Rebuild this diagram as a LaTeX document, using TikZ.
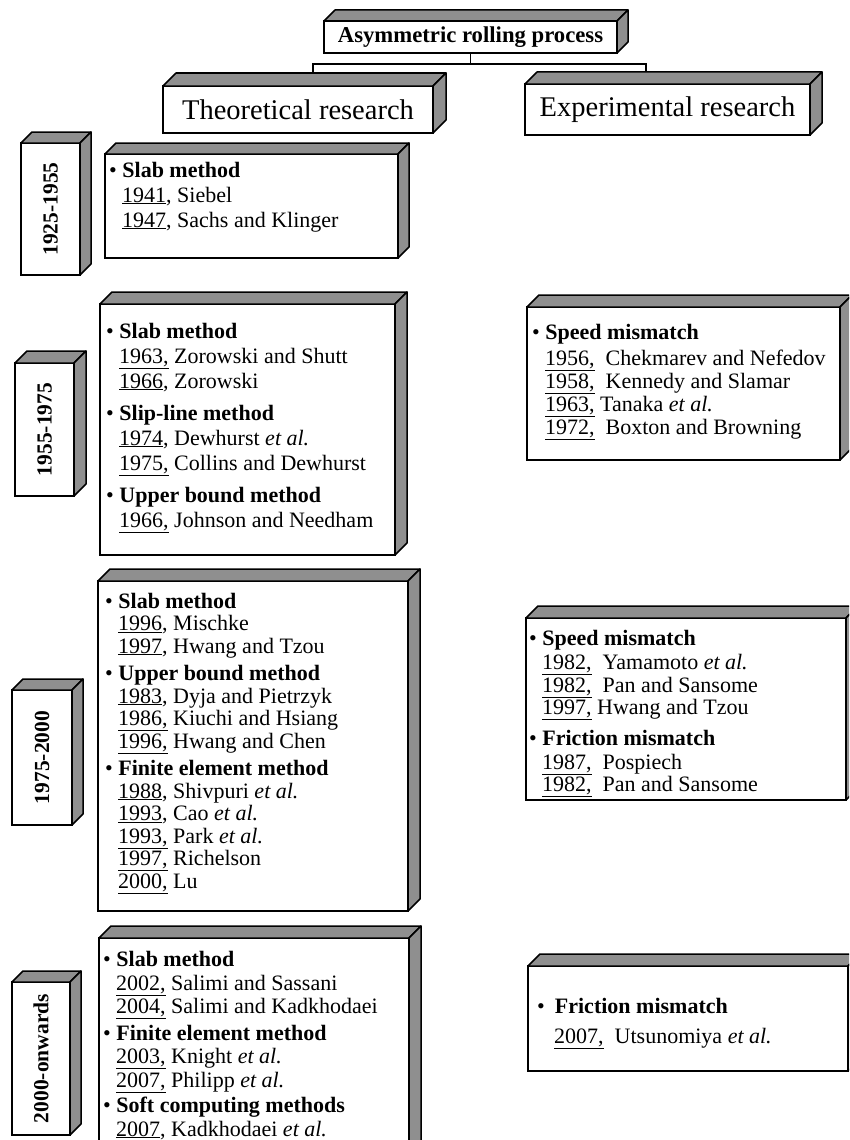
\documentclass[tikz,border=0pt]{standalone}
\usepackage{fontspec}
\setmainfont{Liberation Serif}

% solid 3-D box: white front face plus a grey top and grey right side
\newcommand\cuboid[6]{% name, left, top, right, bottom, depth
  \node[front, minimum width={(#4)-(#2)}, minimum height={(#5)-(#3)}]
    (#1) at ({((#2)+(#4))/2},{((#3)+(#5))/2}) {};
  \filldraw[face] (#1.north west) -- ++(#6,-#6)
    -- ([shift={(#6,-#6)}]#1.north east) -- (#1.north east) -- cycle;
  \filldraw[face] (#1.north east) -- ++(#6,-#6)
    -- ([shift={(#6,-#6)}]#1.south east) -- (#1.south east) -- cycle;
}
\newcommand\yr[1]{\underline{#1}}
\newcommand\yrc[1]{\underline{#1,}}
\newcommand\ind{\hspace*{13pt}}
\newcommand\head[1]{\textbullet\ \textbf{#1}}

\tikzset{
  front/.style={draw=black, line width=2.2pt, fill=white, inner sep=0pt, outer sep=0pt},
  face/.style={draw=black, line width=1.5pt, fill=black!44, line join=round},
  link/.style={draw=black, line width=1.6pt},
  % placed by the baseline of the last line of the list
  body/.style={anchor=base west, align=left, inner sep=0pt},
  period/.style={rotate=90, inner sep=0pt, font=\bfseries\fontsize{21.5}{24}\selectfont},
  title/.style={inner sep=0pt, font=\fontsize{28.5}{32}\selectfont},
}

\begin{document}
\begin{tikzpicture}[x=1pt,y=-1pt]
\path[use as bounding box, clip] (0,0) rectangle (849,1140);
\fill[white] (0,0) rectangle (849,1140);

% ---- headers ----
\cuboid{top}{324}{21}{617}{53}{11}
\node[inner sep=0pt, font=\bfseries\fontsize{22.7}{24}\selectfont] (toptxt) at (top.center) {Asymmetric rolling process};
\cuboid{theo}{163}{86}{433}{133}{13}
\node[title] (theotxt) at (theo.center) {Theoretical research};
\cuboid{expe}{525}{84}{810}{135}{12}
\node[title] (expetxt) at (expe.center) {Experimental research};

\coordinate (jL) at (313,73);
\coordinate (jR) at (646,72);
\draw[link] (top.south) -- ++(0,11) coordinate (fork);
\draw[link] (jL) |- (fork) -| (jR);

% ---- period labels ----
\cuboid{p1}{21}{143}{80}{275}{11}
\node[period] (p1txt) at (p1.center) {1925-1955};
\cuboid{p2}{15}{363}{74}{496}{12}
\node[period] (p2txt) at (p2.center) {1955-1975};
\cuboid{p3}{12}{690}{72}{825}{11}
\node[period] (p3txt) at (p3.center) {1975-2000};
\cuboid{p4}{12}{982}{70}{1135}{11}
\node[period] (p4txt) at (p4.center) {2000-onwards};

% ---- theoretical research ----
\cuboid{t1}{105}{154}{398}{258}{11}
\node[body, font=\fontsize{22}{25}\selectfont] (t1txt) at (109,227) {%
\head{Slab method}\\
\ind\yr{1941}, Siebel\\
\ind\yr{1947}, Sachs and Klinger};

\cuboid{t2}{100}{304}{395}{555}{12}
\node[body, font=\fontsize{22}{25}\selectfont] (t2txt) at (106,527) {%
\head{Slab method}\\
\ind\yrc{1963} Zorowski and Shutt\\
\ind\yr{1966}, Zorowski\\[7pt]
\head{Slip-line method}\\
\ind\yr{1974}, Dewhurst \textit{et al.}\\
\ind\yrc{1975} Collins and Dewhurst\\[7pt]
\head{Upper bound method}\\
\ind\yrc{1966} Johnson and Needham};

\cuboid{t3}{98}{581}{408}{911}{12}
\node[body, font=\fontsize{22}{22.5}\selectfont] (t3txt) at (105,888) {%
\head{Slab method}\\
\ind\yr{1996}, Mischke\\
\ind\yr{1997}, Hwang and Tzou\\[5pt]
\head{Upper bound method}\\
\ind\yr{1983}, Dyja and Pietrzyk\\
\ind\yrc{1986} Kiuchi and Hsiang\\
\ind\yrc{1996} Hwang and Chen\\[5pt]
\head{Finite element method}\\
\ind\yr{1988}, Shivpuri \textit{et al.}\\
\ind\yr{1993}, Cao \textit{et al.}\\
\ind\yrc{1993} Park \textit{et al.}\\
\ind\yrc{1997} Richelson\\
\ind\yrc{2000} Lu};

\cuboid{t4}{99}{938}{409}{1170}{12}
\node[body, font=\fontsize{22}{23.5}\selectfont] (t4txt) at (103,1136) {%
\head{Slab method}\\
\ind\yrc{2002} Salimi and Sassani\\
\ind\yrc{2004} Salimi and Kadkhodaei\\[3pt]
\head{Finite element method}\\
\ind\yrc{2003} Knight \textit{et al.}\\
\ind\yrc{2007} Philipp \textit{et al.}\\[2pt]
\head{Soft computing methods}\\
\ind\yr{2007}, Kadkhodaei \textit{et al.}};

% ---- experimental research ----
\cuboid{e2}{527}{307}{840}{460}{12}
\node[body, font=\fontsize{22}{23}\selectfont] (e2txt) at (532,434.5) {%
\head{Speed mismatch}\\[3pt]
\ind\yrc{1956}\ \ Chekmarev and Nefedov\\
\ind\yrc{1958}\ \ Kennedy and Slamar\\
\ind\yrc{1963} Tanaka \textit{et al.}\\
\ind\yrc{1972}\ \ Boxton and Browning};

\cuboid{e3}{526}{618}{846}{800}{12}
\node[body, font=\fontsize{22}{22.5}\selectfont] (e3txt) at (529,791.5) {%
\head{Speed mismatch}\\[1.5pt]
\ind\yrc{1982}\ \ Yamamoto \textit{et al.}\\
\ind\yrc{1982}\ \ Pan and Sansome\\
\ind\yrc{1997} Hwang and Tzou\\[8pt]
\head{Friction mismatch}\\[1.5pt]
\ind\yrc{1987}\ \ Pospiech\\
\ind\yrc{1982}\ \ Pan and Sansome};

\cuboid{e4}{528}{966}{848}{1071}{12}
\node[body, font=\fontsize{22}{30}\selectfont] (e4txt) at (537,1043) {%
\textbullet\hspace{10pt}\textbf{Friction mismatch}\\
\hspace*{17pt}\yrc{2007}\ \ Utsunomiya \textit{et al.}};

\end{tikzpicture}
\end{document}
